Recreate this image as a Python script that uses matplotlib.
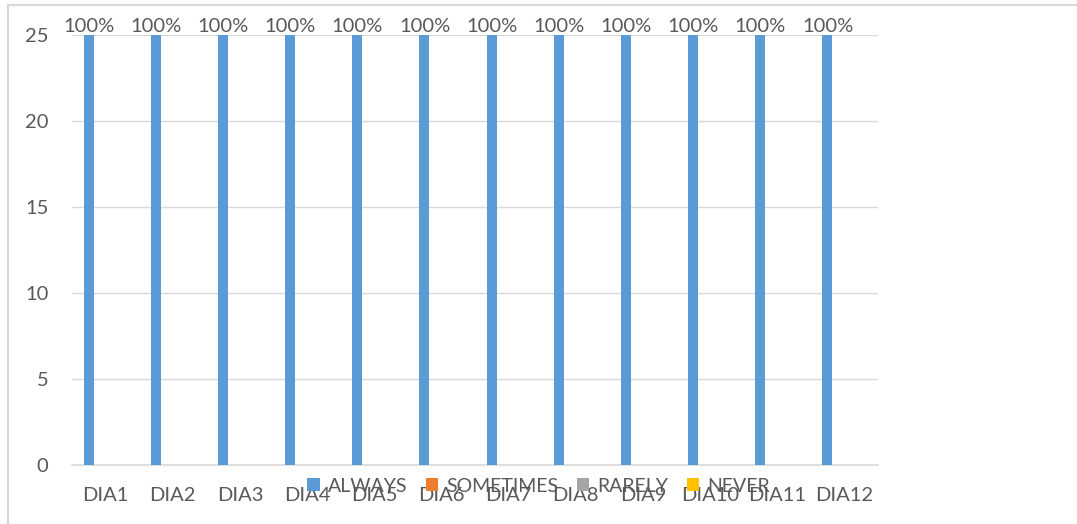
import matplotlib

matplotlib.use("Agg")

import matplotlib.pyplot as plt
import numpy as np
from matplotlib.lines import Line2D
from matplotlib.patches import Patch

categories = ["DIA1", "DIA2", "DIA3", "DIA4", "DIA5", "DIA6",
              "DIA7", "DIA8", "DIA9", "DIA10", "DIA11", "DIA12"]
series_names = ["ALWAYS", "SOMETIMES", "RARELY", "NEVER"]
always = [25] * 12
sometimes = [0] * 12
rarely = [0] * 12
never = [0] * 12
always_labels = ["100%"] * 12
colors = ["#5b9bd5", "#ed7d31", "#a5a5a5", "#ffc000"]

plt.rcParams["font.family"] = ["Lato", "DejaVu Sans"]
text_color = "#595959"
grid_color = "#d9d9d9"
fs = 14.5

W, H = 1077, 524
fig = plt.figure(figsize=(W / 100, H / 100), dpi=100)
ax = fig.add_axes([72 / W, 1 - 465 / H, (878 - 72) / W, (465 - 35) / H])

x = np.arange(len(categories))
slot = 0.168
bar_w = 0.149
all_series = [always, sometimes, rarely, never]
for k, (vals, name, col) in enumerate(zip(all_series, series_names, colors)):
    bars = ax.bar(x + (k - 1.5) * slot, vals, width=bar_w, color=col, label=name, zorder=3)
    if name == "ALWAYS":
        for b, lab in zip(bars, always_labels):
            ax.text(b.get_x() + b.get_width() / 2, b.get_height() + 0.17, lab,
                    ha="center", va="baseline", fontsize=fs, color=text_color, zorder=4)

ax.set_xlim(-0.5, len(categories) - 0.5)
ax.set_ylim(0, 25)
ax.set_yticks([0, 5, 10, 15, 20, 25])
ax.set_xticks(x)
ax.set_xticklabels(categories)
ax.tick_params(axis="both", length=0, labelsize=fs, labelcolor=text_color)
ax.tick_params(axis="x", pad=16)
ax.tick_params(axis="y", pad=17)
ax.yaxis.grid(True, color=grid_color, linewidth=1.0, zorder=0)
for side in ["left", "right", "top"]:
    ax.spines[side].set_visible(False)
ax.spines["bottom"].set_color(grid_color)
ax.spines["bottom"].set_linewidth(1.2)

handles = [Patch(facecolor=c, label=n) for c, n in zip(colors, series_names)]
fig.legend(handles=handles, loc="center", bbox_to_anchor=(0.5, 1 - 486 / H), ncol=4,
           frameon=False, fontsize=14, labelcolor=text_color, handlelength=0.65,
           handleheight=0.65, handletextpad=0.4, columnspacing=0.95)

# chart border (left and top edges visible in the reference)
fig.add_artist(Line2D([8 / W, 8 / W], [0, 1 - 5 / H], color=grid_color, linewidth=1.5))
fig.add_artist(Line2D([8 / W, 1], [1 - 5 / H, 1 - 5 / H], color=grid_color, linewidth=1.5))

fig.savefig("out.png", dpi=100)
